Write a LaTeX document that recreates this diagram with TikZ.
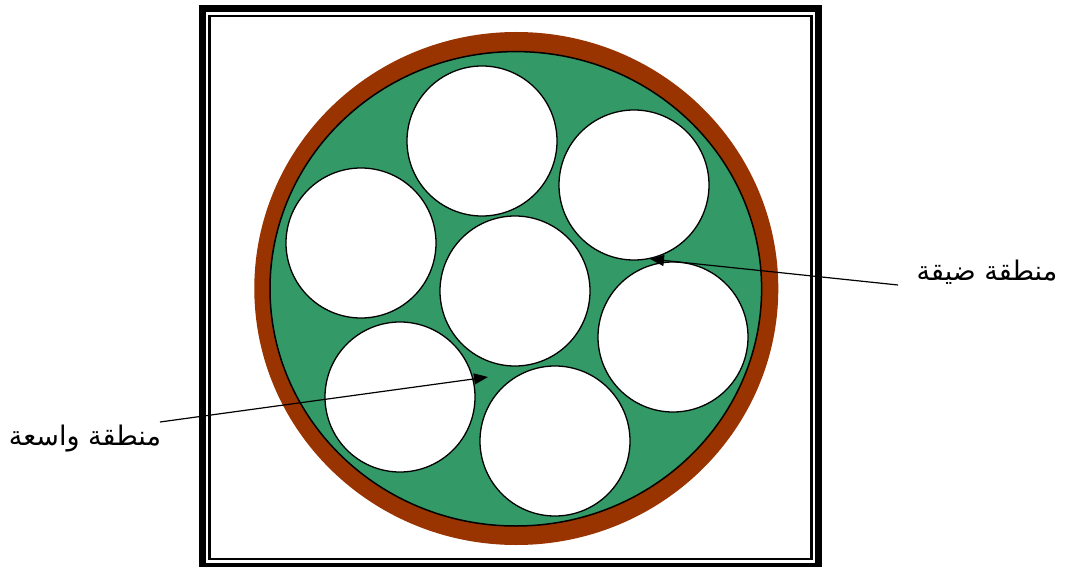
\documentclass[tikz,border=0pt]{standalone}
\usepackage{fontspec}
\usetikzlibrary{arrows.meta}
\TeXXeTstate=1
\newfontfamily\arabicfont[Script=Arabic]{DejaVu Sans}
\definecolor{wallgreen}{HTML}{339966}
\definecolor{ringbrown}{HTML}{993300}
\tikzset{
  tube/.style={draw=black, line width=1.3pt, fill=white},
  lbl/.style={font=\arabicfont\fontsize{27}{31}\selectfont, inner sep=0pt},
  pointer/.style={draw=black, line width=1.2pt, -{Triangle[length=14pt,width=11pt]}},
}
\begin{document}
\begin{tikzpicture}[x=1pt,y=-1pt]
\useasboundingbox (0,0) rectangle (1066,567);
\begin{scope}
\clip (0,0) rectangle (1066,567);
\draw[line width=7pt] (202.5,8.5) rectangle (818.5,566);
\end{scope}
\draw[line width=2.5pt] (209.5,16) rectangle (811.5,559);
% pipe
\fill[ringbrown] (516.3,288.5) ellipse [x radius=262, y radius=256.5];
\draw[fill=wallgreen, line width=1.5pt] (515.8,288.8) ellipse [x radius=245.8, y radius=237.2];
% tubes
\node[tube, circle, minimum size=150pt, inner sep=0pt] (t1) at (482,141) {};
\node[tube, circle, minimum size=150pt, inner sep=0pt] (t2) at (634,185) {};
\node[tube, circle, minimum size=150pt, inner sep=0pt] (t3) at (361,243) {};
\node[tube, circle, minimum size=150pt, inner sep=0pt] (t4) at (515,291) {};
\node[tube, circle, minimum size=150pt, inner sep=0pt] (t5) at (673,337) {};
\node[tube, circle, minimum size=150pt, inner sep=0pt] (t6) at (400,397) {};
\node[tube, circle, minimum size=150pt, inner sep=0pt] (t7) at (555,441) {};
% labels
\node[lbl] (narrow) at (987,272) {\beginR منطقة ضيقة\endR};
\node[lbl] (wide) at (85,439) {\beginR منطقة واسعة\endR};
\coordinate (narrowstart) at (898,285);
\coordinate (narrowtip) at (650,259);
\coordinate (widestart) at (160,422);
\coordinate (widetip) at (488,377);
\draw[pointer] (narrowstart) -- (narrowtip);
\draw[pointer] (widestart) -- (widetip);
\end{tikzpicture}
\end{document}
